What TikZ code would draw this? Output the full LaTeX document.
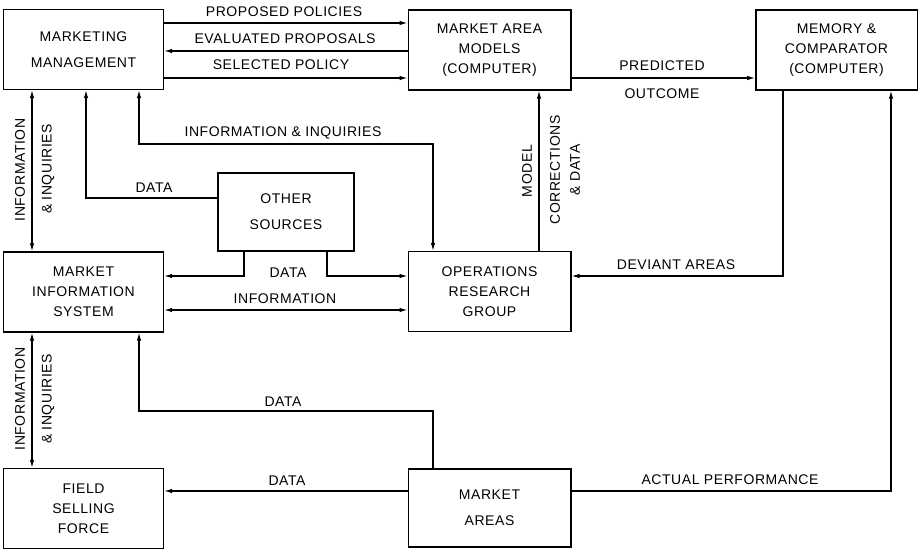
\documentclass[tikz,border=0pt]{standalone}
\usepackage{fontspec}
\setmainfont{Liberation Sans}[LetterSpace=4]
\usetikzlibrary{arrows.meta}
\tikzset{>={Latex[length=6pt,width=3.4pt]}}
\tikzset{
  blk/.style={draw,line width=1pt,align=center,minimum width=120pt,minimum height=60pt,inner sep=0pt},
  lbl/.style={inner sep=1pt,align=center},
  flow/.style={line width=0.9pt}
}

\begin{document}
\begin{tikzpicture}[x=0.75pt,y=-0.75pt,font=\fontsize{10.5}{15}\selectfont]
\useasboundingbox (0,0) rectangle (920,549);

% Boxes
\node[blk]                      (mm)  at (83.5,49.5) {MARKETING\\[4.5pt]MANAGEMENT};
\node[blk,minimum width=122pt]  (mam) at (489.5,50)  {MARKET AREA\\MODELS\\(COMPUTER)};
\node[blk,minimum width=121pt]  (mcc) at (836.5,50)  {MEMORY \&\\COMPARATOR\\(COMPUTER)};
\node[blk,minimum width=102pt,minimum height=58.5pt] (os) at (286,212) {OTHER\\[4.5pt]SOURCES};
\node[blk]                      (mis) at (83.5,292)  {MARKET\\INFORMATION\\SYSTEM};
\node[blk,minimum width=122pt]  (org) at (489.5,291.5) {OPERATIONS\\RESEARCH\\GROUP};
\node[blk]                      (fsf) at (83.5,508.5) {FIELD\\SELLING\\FORCE};
\node[blk,minimum width=122pt,minimum height=58.5pt] (ma) at (489.5,508) {MARKET\\[4.5pt]AREAS};

% Routing columns and rows
\coordinate (cII)  at (32,0);
\coordinate (cOS)  at (86,0);
\coordinate (cMI)  at (139,0);
\coordinate (cOR)  at (433,0);
\coordinate (cOSl) at (244,0);
\coordinate (cOSr) at (327,0);
\coordinate (cMC)  at (539,0);
\coordinate (cDA)  at (783,0);
\coordinate (cAP)  at (891,0);
\coordinate (rPP)  at (0,23);
\coordinate (rEP)  at (0,51);
\coordinate (rSP)  at (0,78);
\coordinate (rII)  at (0,144);
\coordinate (rOS)  at (0,198);
\coordinate (rDA)  at (0,276);
\coordinate (rIN)  at (0,310);
\coordinate (rDM)  at (0,411);
\coordinate (rAP)  at (0,491);

% Top row
\draw[flow,->] (mm.east |- rPP) -- (mam.west |- rPP);
\draw[flow,<-] (mm.east |- rEP) -- (mam.west |- rEP);
\draw[flow,->] (mm.east |- rSP) -- (mam.west |- rSP);
\draw[flow,->] (mam.east |- rSP) -- (mcc.west |- rSP);

\node[lbl] (lpp) at (284,12) {PROPOSED POLICIES};
\node[lbl] (lep) at (285,39) {EVALUATED PROPOSALS};
\node[lbl] (lsp) at (281,65) {SELECTED POLICY};
\node[lbl] (lpr) at (662,66) {PREDICTED};
\node[lbl] (lou) at (662,94) {OUTCOME};

% Marketing management links
\draw[flow,<->] (mm.south -| cII) -- (mis.north -| cII);
\draw[flow,->] (os.west |- rOS) -| (mm.south -| cOS);
\draw[flow,<->] (mm.south -| cMI) -- (cMI |- rII) -- (cOR |- rII) -- (org.north -| cOR);

\node[lbl,rotate=90] (lii1) at (20,170) {INFORMATION};
\node[lbl,rotate=90] (lii2) at (48,169) {\& INQUIRIES};
\node[lbl] (lda1) at (154,188) {DATA};
\node[lbl] (lii3) at (283,133) {INFORMATION \& INQUIRIES};

% Other sources and operations research
\draw[flow,->] (os.south -| cOSl) |- (mis.east |- rDA);
\draw[flow,->] (os.south -| cOSr) |- (org.west |- rDA);
\draw[flow,<->] (mis.east |- rIN) -- (org.west |- rIN);
\draw[flow,->] (org.north -| cMC) -- (mam.south -| cMC);
\draw[flow,->] (mcc.south -| cDA) |- (org.east |- rDA);

\node[lbl] (lda2) at (288,273) {DATA};
\node[lbl] (lin)  at (285,299) {INFORMATION};
\node[lbl] (lda3) at (676,265) {DEVIANT AREAS};
\node[lbl,rotate=90] (lmo) at (527,171) {MODEL};
\node[lbl,rotate=90] (lco) at (565,170) {CORRECTIONS\\\& DATA};

% Bottom row
\draw[flow,<->] (mis.south -| cII) -- (fsf.north -| cII);
\draw[flow,->] (ma.north -| cOR) |- (cMI |- rDM) -- (mis.south -| cMI);
\draw[flow,->] (ma.west |- rAP) -- (fsf.east |- rAP);
\draw[flow,->] (ma.east |- rAP) -| (mcc.south -| cAP);

\node[lbl,rotate=90] (lii4) at (20,399) {INFORMATION};
\node[lbl,rotate=90] (lii5) at (48,399) {\& INQUIRIES};
\node[lbl] (lda4) at (283,402) {DATA};
\node[lbl] (lda5) at (287,481) {DATA};
\node[lbl] (lap)  at (730,480) {ACTUAL PERFORMANCE};

\end{tikzpicture}
\end{document}
